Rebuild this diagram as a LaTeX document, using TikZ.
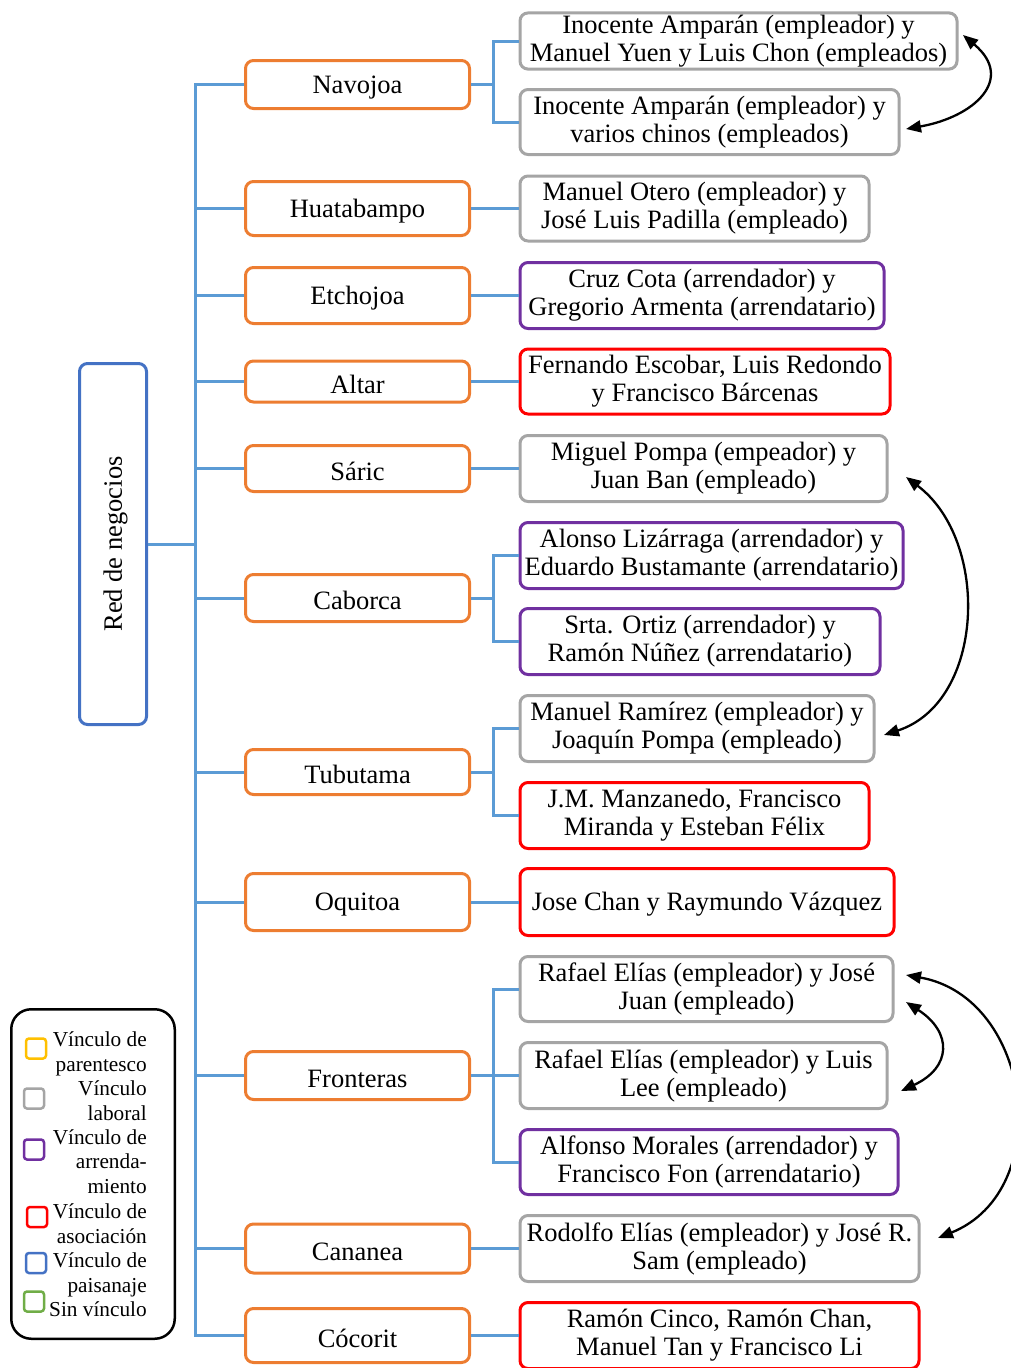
\documentclass[tikz,border=0pt]{standalone}
\usepackage{fontspec}
\setmainfont{Liberation Serif}
\usepackage{tikz}
\usepackage{xcolor}
\usetikzlibrary{arrows.meta}

\definecolor{naranja}{HTML}{ED7D31}
\definecolor{azulrama}{HTML}{5B9BD5}
\definecolor{azul}{HTML}{4472C4}
\definecolor{gris}{HTML}{A5A5A5}
\definecolor{morado}{HTML}{7030A0}
\definecolor{rojo}{HTML}{FF0000}
\definecolor{amarillo}{HTML}{FFC000}
\definecolor{verde}{HTML}{70AD47}

\begin{document}
\begin{tikzpicture}[x=1pt,y=1pt,
    caja/.style={draw, fill=white, rounded corners=8pt, line width=3pt, align=center, inner sep=2pt, font=\fontsize{26.5}{28}\selectfont, execute at begin node={\rule{0pt}{23.6pt}}},
    ciudad/.style={caja, draw=naranja, minimum width=224pt},
    vinculo/.style={caja, anchor=west},
    rama/.style={azulrama, line width=3pt},
    flecha/.style={{Triangle[length=15pt,width=12pt]}-{Triangle[length=15pt,width=12pt]}, line width=2.3pt},
    cuadro/.style={draw, rounded corners=3pt, line width=2.5pt, minimum size=20pt, inner sep=0pt},
    leyenda/.style={anchor=base east, align=right, inner sep=0pt, font=\fontsize{21.3}{24.5}\selectfont}]
    \useasboundingbox (0,0) rectangle (1010,-1368);

    \node[caja, draw=azul, rotate=90, minimum width=361pt, minimum height=67pt] (negocios) at (113,-544) {Red de negocios};

    \node[ciudad, minimum height=48pt] (navojoa) at (357.5,-84.5) {Navojoa};
    \node[ciudad, minimum height=54pt] (huatabampo) at (357.5,-208.5) {Huatabampo};
    \node[ciudad, minimum height=56pt] (etchojoa) at (357.5,-295.5) {Etchojoa};
    \node[ciudad, minimum height=41pt] (altar) at (357.5,-381.5) {Altar};
    \node[ciudad, minimum height=46pt] (saric) at (357.5,-468.5) {Sáric};
    \node[ciudad, minimum height=47pt] (caborca) at (357.5,-598) {Caborca};
    \node[ciudad, minimum height=45pt] (tubutama) at (357.5,-772) {Tubutama};
    \node[ciudad, minimum height=57pt] (oquitoa) at (357.5,-902) {Oquitoa};
    \node[ciudad, minimum height=48pt] (fronteras) at (357.5,-1075.5) {Fronteras};
    \node[ciudad, minimum height=49pt] (cananea) at (357.5,-1248.5) {Cananea};
    \node[ciudad, minimum height=54pt] (cocorit) at (357.5,-1335.5) {Cócorit};

    \node[vinculo, draw=gris, minimum width=437pt, minimum height=55pt] (nav1) at (518.5,-41) {Inocente Amparán (empleador) y\\Manuel Yuen y Luis Chon (empleados)};
    \node[vinculo, draw=gris, minimum width=379pt, minimum height=65pt] (nav2) at (518.5,-122) {Inocente Amparán (empleador) y\\varios chinos (empleados)};
    \node[vinculo, draw=gris, minimum width=349pt, minimum height=65pt] (hua1) at (518.5,-208.5) {Manuel Otero (empleador) y\\José Luis Padilla (empleado)};
    \node[vinculo, draw=morado, minimum width=364pt, minimum height=66pt] (etc1) at (518.5,-295.5) {Cruz Cota (arrendador) y\\Gregorio Armenta (arrendatario)};
    \node[vinculo, draw=rojo, minimum width=370pt, minimum height=65pt] (alt1) at (518.5,-381.5) {Fernando Escobar, Luis Redondo\\y Francisco Bárcenas};
    \node[vinculo, draw=gris, minimum width=367pt, minimum height=66pt] (sar1) at (518.5,-468.5) {Miguel Pompa (empeador) y\\Juan Ban (empleado)};
    \node[vinculo, draw=morado, minimum width=383pt, minimum height=66pt] (cab1) at (518.5,-555.5) {Alonso Lizárraga (arrendador) y\\Eduardo Bustamante (arrendatario)};
    \node[vinculo, draw=morado, minimum width=360pt, minimum height=66pt] (cab2) at (518.5,-641.5) {Srta. Ortiz (arrendador) y\\Ramón Núñez (arrendatario)};
    \node[vinculo, draw=gris, minimum width=354pt, minimum height=66pt] (tub1) at (518.5,-728.5) {Manuel Ramírez (empleador) y\\Joaquín Pompa (empleado)};
    \node[vinculo, draw=rojo, minimum width=349pt, minimum height=66pt] (tub2) at (518.5,-815.5) {J.M. Manzanedo, Francisco\\Miranda y Esteban Félix};
    \node[vinculo, draw=rojo, minimum width=374pt, minimum height=67pt] (oqu1) at (518.5,-902) {Jose Chan y Raymundo Vázquez};
    \node[vinculo, draw=gris, minimum width=373pt, minimum height=65pt] (fro1) at (518.5,-989) {Rafael Elías (empleador) y José\\Juan (empleado)};
    \node[vinculo, draw=gris, minimum width=367pt, minimum height=66pt] (fro2) at (518.5,-1075.5) {Rafael Elías (empleador) y Luis\\Lee (empleado)};
    \node[vinculo, draw=morado, minimum width=378pt, minimum height=65pt] (fro3) at (518.5,-1162) {Alfonso Morales (arrendador) y\\Francisco Fon (arrendatario)};
    \node[vinculo, draw=gris, minimum width=399pt, minimum height=66pt] (can1) at (518.5,-1248.5) {Rodolfo Elías (empleador) y José R.\\Sam (empleado)};
    \node[vinculo, draw=rojo, minimum width=399pt, minimum height=66pt] (coc1) at (518.5,-1335.5) {Ramón Cinco, Ramón Chan,\\Manuel Tan y Francisco Li};

    \draw[rama] (negocios.south) -- ++(47,0) coordinate (tronco);
    \foreach \c in {navojoa,huatabampo,etchojoa,altar,saric,caborca,tubutama,oquitoa,fronteras,cananea,cocorit}
        \draw[rama] (tronco) |- (\c.west);

    \draw[rama] (navojoa.east) -- ++(22,0) |- (nav1.west);
    \draw[rama] (navojoa.east) -- ++(22,0) |- (nav2.west);
    \draw[rama] (huatabampo.east) -- (hua1.west);
    \draw[rama] (etchojoa.east) -- (etc1.west);
    \draw[rama] (altar.east) -- (alt1.west);
    \draw[rama] (saric.east) -- (sar1.west);
    \draw[rama] (caborca.east) -- ++(22,0) |- (cab1.west);
    \draw[rama] (caborca.east) -- ++(22,0) |- (cab2.west);
    \draw[rama] (tubutama.east) -- ++(22,0) |- (tub1.west);
    \draw[rama] (tubutama.east) -- ++(22,0) |- (tub2.west);
    \draw[rama] (oquitoa.east) -- (oqu1.west);
    \draw[rama] (fronteras.east) -- ++(22,0) |- (fro1.west);
    \draw[rama] (fronteras.east) -- (fro2.west);
    \draw[rama] (fronteras.east) -- ++(22,0) |- (fro3.west);
    \draw[rama] (cananea.east) -- (can1.west);
    \draw[rama] (cocorit.east) -- (coc1.west);

    \draw[flecha] ([shift={(4.5,6)}]nav1.east) to[out=-40,in=10,looseness=1.6] ([shift={(5.5,-7)}]nav2.east);
    \draw[flecha] ([shift={(17.5,-8.5)}]sar1.east) to[out=-37,in=18,looseness=1.05] ([shift={(8.5,-6.5)}]tub1.east);
    \draw[flecha] ([shift={(11.5,14)}]fro1.east) to[out=-10,in=22,looseness=1.24] ([shift={(17.5,10.5)}]can1.east);
    \draw[flecha] ([shift={(11.5,-13)}]fro1.east) to[out=-33,in=25,looseness=1.6] ([shift={(12.5,-15.5)}]fro2.east);

    \node[draw, line width=2.5pt, rounded corners=20pt, minimum width=163.5pt, minimum height=329.5pt] (marco) at (93,-1174) {};
    \node[cuadro, draw=amarillo] (camarillo) at (36,-1048.5) {};
    \node[cuadro, draw=gris] (cgris) at (34,-1098.5) {};
    \node[cuadro, draw=morado] (cmorado) at (34,-1149.5) {};
    \node[cuadro, draw=rojo] (crojo) at (37,-1217) {};
    \node[cuadro, draw=azul] (cazul) at (36,-1263) {};
    \node[cuadro, draw=verde] (cverde) at (34,-1301.5) {};
    \node[leyenda] (tamarillo) at (147,-1071) {Vínculo de\\parentesco};
    \node[leyenda] (tgris) at (147,-1120) {Vínculo\\laboral};
    \node[leyenda] (tmorado) at (147,-1193) {Vínculo de\\arrenda-\\miento};
    \node[leyenda] (trojo) at (147,-1243) {Vínculo de\\asociación};
    \node[leyenda] (tazul) at (147,-1292) {Vínculo de\\paisanaje};
    \node[leyenda] (tverde) at (147,-1316) {Sin vínculo};
\end{tikzpicture}
\end{document}
